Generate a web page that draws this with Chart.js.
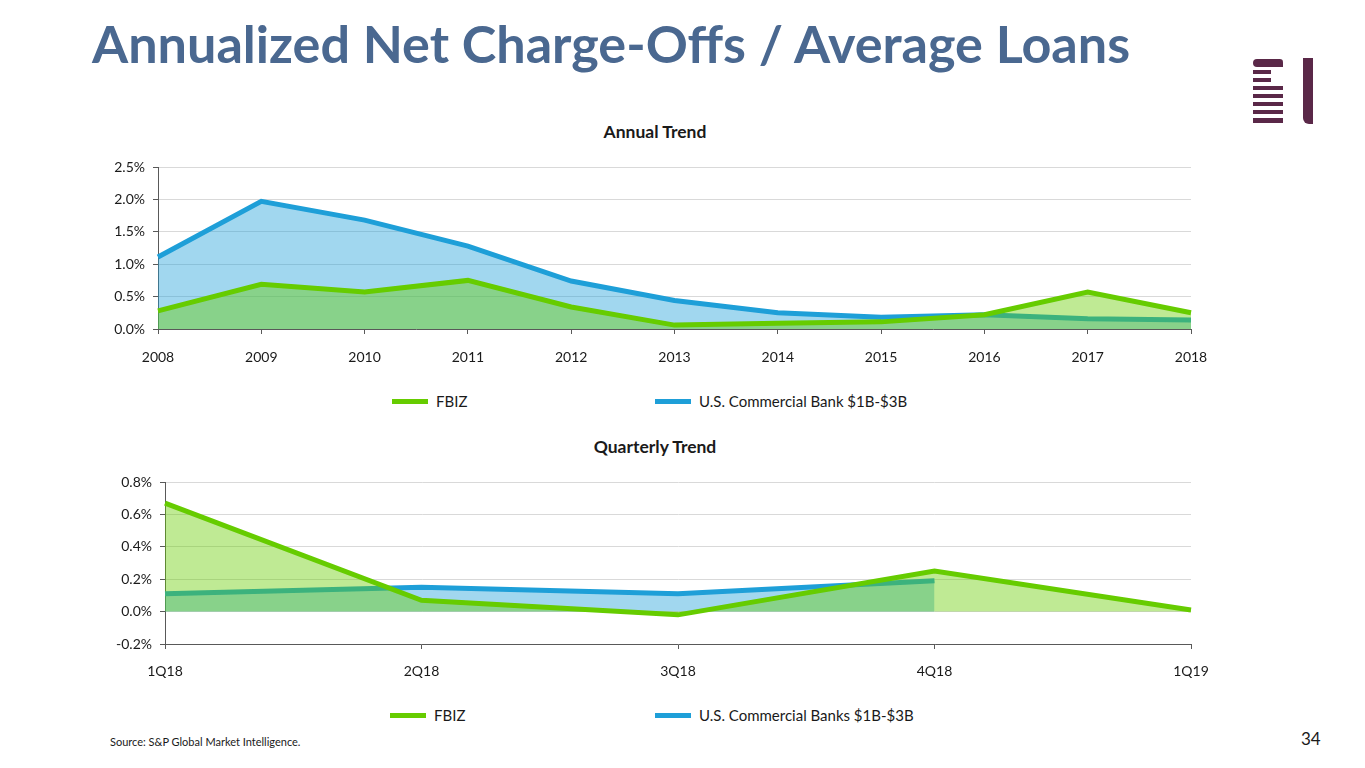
<!DOCTYPE html>
<html>
<head>
<meta charset="utf-8">
<script src="https://cdn.jsdelivr.net/npm/chart.js@4.4.1/dist/chart.umd.min.js"></script>
<style>
  body { margin: 0; background: #fff; font-family: Lato, "Open Sans", sans-serif; }
  #page { position: relative; width: 1365px; height: 768px; overflow: hidden; }
  .abs { position: absolute; }
  #title { left: 92px; top: 12px; font-size: 52px; font-weight: 700; color: #4A6890; white-space: nowrap; transform-origin: 0 0; }
  .chart-title { width: 1110px; left: 100px; text-align: center; font-size: 17.5px; font-weight: 700; color: #1a1a1a; }
  .legend-item { font-size: 15px; color: #1a1a1a; display: flex; align-items: center; white-space: nowrap; }
  .swatch { width: 36px; height: 5px; margin-right: 8px; }
  #source { left: 110px; top: 735px; font-size: 11px; color: #1a1a1a; }
  #pagenum { left: 1301px; top: 728px; font-size: 17px; color: #1a1a1a; }
  .logo { background: #5A2848; position: absolute; }
</style>
</head>
<body>
<div id="page">
  <div id="title" class="abs">Annualized Net Charge-Offs / Average Loans</div>

  <!-- logo -->
  <div class="logo" style="left:1253px; top:59px; width:30px; height:8px; border-radius:6px 5px 0 6px;"></div>
  <div class="logo" style="left:1253px; top:70px; width:18px; height:4px;"></div>
  <div class="logo" style="left:1253px; top:78px; width:18px; height:4px;"></div>
  <div class="logo" style="left:1253px; top:86px; width:30px; height:4px;"></div>
  <div class="logo" style="left:1253px; top:94px; width:30px; height:4px;"></div>
  <div class="logo" style="left:1253px; top:102px; width:30px; height:4px;"></div>
  <div class="logo" style="left:1253px; top:110px; width:30px; height:4px;"></div>
  <div class="logo" style="left:1253px; top:118px; width:30px; height:5px;"></div>
  <div class="logo" style="left:1303px; top:58px; width:10px; height:66px; border-radius:0 0 0 6px;"></div>

  <div class="abs chart-title" style="top:121px;">Annual Trend</div>
  <canvas id="annual" class="abs" width="1110" height="210" style="left:100px; top:160px;"></canvas>
  <div class="abs legend-item" style="left:392px; top:392px;"><span class="swatch" style="background:#66CC00"></span>FBIZ</div>
  <div class="abs legend-item" style="left:655px; top:392px;"><span class="swatch" style="background:#1E9FD8"></span>U.S. Commercial Bank $1B-$3B</div>

  <div class="abs chart-title" style="top:436px;">Quarterly Trend</div>
  <canvas id="quarterly" class="abs" width="1110" height="215" style="left:100px; top:470px;"></canvas>
  <div class="abs legend-item" style="left:390px; top:706px;"><span class="swatch" style="background:#66CC00"></span>FBIZ</div>
  <div class="abs legend-item" style="left:655px; top:706px;"><span class="swatch" style="background:#1E9FD8"></span>U.S. Commercial Banks $1B-$3B</div>

  <div id="source" class="abs">Source: S&amp;P Global Market Intelligence.</div>
  <div id="pagenum" class="abs">34</div>
</div>

<script>
// Annual trend data (% of average loans)
const years = ['2008', '2009', '2010', '2011', '2012', '2013', '2014', '2015', '2016', '2017', '2018'];
const fbizAnnual = [0.28, 0.69, 0.57, 0.75, 0.34, 0.06, 0.09, 0.11, 0.22, 0.57, 0.25];
const banksAnnual = [1.11, 1.97, 1.68, 1.28, 0.74, 0.44, 0.25, 0.18, 0.22, 0.16, 0.14];
const annualYTicks = [0, 0.5, 1.0, 1.5, 2.0, 2.5];

// Quarterly trend data
const quarters = ['1Q18', '2Q18', '3Q18', '4Q18', '1Q19'];
const fbizQuarterly = [0.67, 0.07, -0.02, 0.25, 0.01];
const banksQuarterly = [0.11, 0.15, 0.11, 0.19, null];
const quarterlyYTicks = [-0.2, 0, 0.2, 0.4, 0.6, 0.8];

const GREEN = '#66CC00';
const BLUE = '#1E9FD8';

// squeeze the big title to the width it has on the slide
const titleEl = document.getElementById('title');
titleEl.style.transform = 'scaleX(' + (1038 / titleEl.offsetWidth) + ')';

function makeChart(id, labels, fbiz, banks, yTicks, yWidth, padTop, xPad) {
    const tickFont = { family: 'Lato', size: 14 };
    return new Chart(document.getElementById(id), {
        type: 'line',
        data: {
            labels: labels,
            datasets: [
                {
                    label: 'FBIZ',
                    data: fbiz,
                    borderColor: GREEN,
                    backgroundColor: 'rgba(102, 204, 0, 0.42)',
                    borderWidth: 5,
                    fill: 'origin',
                    pointRadius: 0,
                    tension: 0
                },
                {
                    label: 'U.S. Commercial Banks',
                    data: banks,
                    borderColor: BLUE,
                    backgroundColor: 'rgba(30, 159, 216, 0.42)',
                    borderWidth: 5,
                    fill: 'origin',
                    pointRadius: 0,
                    tension: 0
                }
            ]
        },
        options: {
            responsive: false,
            animation: false,
            devicePixelRatio: 1,
            layout: { padding: { top: padTop, right: 19, left: 0, bottom: 0 } },
            plugins: { legend: { display: false }, tooltip: { enabled: false } },
            scales: {
                x: {
                    offset: false,
                    grid: { drawOnChartArea: false, tickLength: 5, tickColor: '#595959' },
                    border: { color: '#595959', width: 1 },
                    ticks: { color: '#1a1a1a', font: tickFont, padding: xPad, maxRotation: 0, autoSkip: false },
                    afterFit: scale => {
                        scale.height = 41;
                        scale.paddingLeft = 0;
                        scale.paddingRight = 0;
                    }
                },
                y: {
                    min: yTicks[0],
                    max: yTicks[yTicks.length - 1],
                    afterBuildTicks: axis => { axis.ticks = yTicks.map(v => ({ value: v })); },
                    grid: { color: '#D9D9D9', tickLength: 5, tickColor: '#595959' },
                    border: { color: '#595959', width: 1 },
                    ticks: {
                        color: '#1a1a1a', font: tickFont, padding: 8,
                        callback: v => v.toFixed(1) + '%'
                    },
                    afterFit: scale => {
                        scale.width = yWidth;
                        scale.paddingTop = 0;
                        scale.paddingBottom = 0;
                    }
                }
            }
        }
    });
}

makeChart('annual', years, fbizAnnual, banksAnnual, annualYTicks, 58, 7, 15);
makeChart('quarterly', quarters, fbizQuarterly, banksQuarterly, quarterlyYTicks, 65, 12, 14);
</script>
</body>
</html>
